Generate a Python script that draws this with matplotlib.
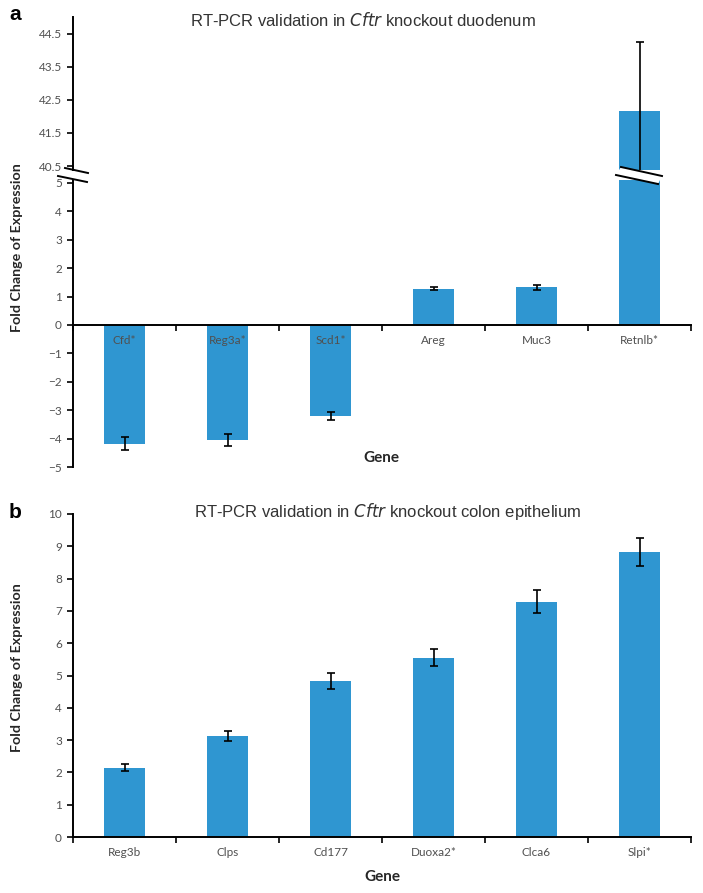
import numpy as np
import matplotlib.pyplot as plt
from matplotlib.lines import Line2D
from matplotlib.patches import Polygon

# panel a: duodenum
genes_a = ['Cfd*', 'Reg3a*', 'Scd1*', 'Areg', 'Muc3', 'Retnlb*']
fold_a = [-4.18, -4.05, -3.2, 1.27, 1.32, 42.15]
err_a = [0.22, 0.2, 0.15, 0.05, 0.08, 2.1]

# panel b: colon epithelium
genes_b = ['Reg3b', 'Clps', 'Cd177', 'Duoxa2*', 'Clca6', 'Slpi*']
fold_b = [2.15, 3.13, 4.84, 5.55, 7.28, 8.82]
err_b = [0.11, 0.16, 0.25, 0.27, 0.36, 0.44]

blue = '#2F96D1'
grey = '#505050'
tick_font = 'Lato'
W, H = 703, 893

fig = plt.figure(figsize=(W / 100, H / 100), dpi=100)


def fx(px):
    return px / W


def fy(py):
    return 1 - py / H


def style(ax, yticks, labels=None):
    for s in ['top', 'right']:
        ax.spines[s].set_visible(False)
    for s in ['left', 'bottom']:
        ax.spines[s].set_linewidth(1.4)
    ax.set_yticks(yticks)
    if labels is not None:
        ax.set_yticklabels(labels)
    ax.tick_params(axis='y', length=4, width=1.2, pad=4, labelsize=8.5,
                   labelcolor=grey)
    for t in ax.get_yticklabels():
        t.set_family(tick_font)


def cat_axis(ax, genes, pad):
    x = np.arange(len(genes))
    ax.set_xlim(-0.5, len(genes) - 0.5)
    ax.set_xticks(x)
    ax.set_xticklabels(genes, family=tick_font)
    ax.set_xticks(np.arange(len(genes) + 1) - 0.5, minor=True)
    ax.tick_params(axis='x', which='major', length=0, pad=pad, labelsize=8.5,
                   labelcolor=grey)
    ax.tick_params(axis='x', which='minor', length=4, width=1.2,
                   direction='out')


left = fx(73)
width = fx(691) - fx(73)
x_a = np.arange(len(genes_a))
ebar = dict(ecolor='black', capsize=3, error_kw=dict(elinewidth=1.2, capthick=1.2))

# upper part of the broken axis
ax_top = fig.add_axes([left, fy(170), width, fy(17) - fy(170)])
ax_top.bar(x_a[5:], fold_a[5:], yerr=err_a[5:], width=0.4, color=blue, **ebar)
ax_top.set_ylim(40.38, 45.0)
ax_top.set_xlim(-0.5, 5.5)
style(ax_top, [40.5, 41.5, 42.5, 43.5, 44.5])
ax_top.spines['bottom'].set_visible(False)
ax_top.set_xticks([])

# lower part
ax_bot = fig.add_axes([left, fy(467), width, fy(180) - fy(467)])
ax_bot.bar(x_a[:5], fold_a[:5], yerr=err_a[:5], width=0.4, color=blue, **ebar)
ax_bot.bar(x_a[5:], fold_a[5:], width=0.4, color=blue)
ax_bot.set_ylim(-5, 5.1)
style(ax_bot, np.arange(-5, 6))
ax_bot.spines['bottom'].set_position(('data', 0))
cat_axis(ax_bot, genes_a, 7)

# break marks
for (x0, y0, x1, y1) in [(65, 168, 88, 173), (58, 176, 87, 182)]:
    fig.add_artist(Line2D([fx(x0), fx(x1)], [fy(y0), fy(y1)], color='black', lw=1.4))
gap = Polygon([(fx(621), fy(167)), (fx(662), fy(176)), (fx(658), fy(184)), (fx(616), fy(175))],
              closed=True, facecolor='white', edgecolor='none', transform=fig.transFigure)
fig.add_artist(gap)
for (x0, y0, x1, y1) in [(621, 167, 662, 176), (616, 175, 658, 184)]:
    fig.add_artist(Line2D([fx(x0), fx(x1)], [fy(y0), fy(y1)], color='black', lw=1.4))

# panel b
ax_b = fig.add_axes([left, fy(837), width, fy(514) - fy(837)])
x_b = np.arange(len(genes_b))
ax_b.bar(x_b, fold_b, yerr=err_b, width=0.4, color=blue, **ebar)
ax_b.set_ylim(0, 10)
style(ax_b, np.arange(0, 11))
cat_axis(ax_b, genes_b, 7)

# titles and labels
title_kw = dict(family='Liberation Sans', fontsize=12, color='#333333', va='center', ha='center')
fig.text(fx(363), fy(20), 'RT-PCR validation in $\\it{Cftr}$ knockout duodenum', **title_kw)
fig.text(fx(388), fy(512), 'RT-PCR validation in $\\it{Cftr}$ knockout colon epithelium', **title_kw)

lab_kw = dict(family=tick_font, fontsize=10.3, fontweight='bold', color='#262626',
              ha='center', va='center')
fig.text(fx(17), fy(248), 'Fold Change of Expression', rotation=90, **lab_kw)
fig.text(fx(17), fy(668), 'Fold Change of Expression', rotation=90, **lab_kw)
lab_kw['fontsize'] = 11
fig.text(fx(381), fy(458), 'Gene', **lab_kw)
fig.text(fx(382), fy(877), 'Gene', **lab_kw)

fig.text(fx(15), fy(15), 'a', family='Liberation Sans', fontsize=15, fontweight='bold',
         ha='center', va='center')
fig.text(fx(15), fy(512), 'b', family='Liberation Sans', fontsize=15, fontweight='bold',
         ha='center', va='center')

fig.savefig('out.png', dpi=100)
